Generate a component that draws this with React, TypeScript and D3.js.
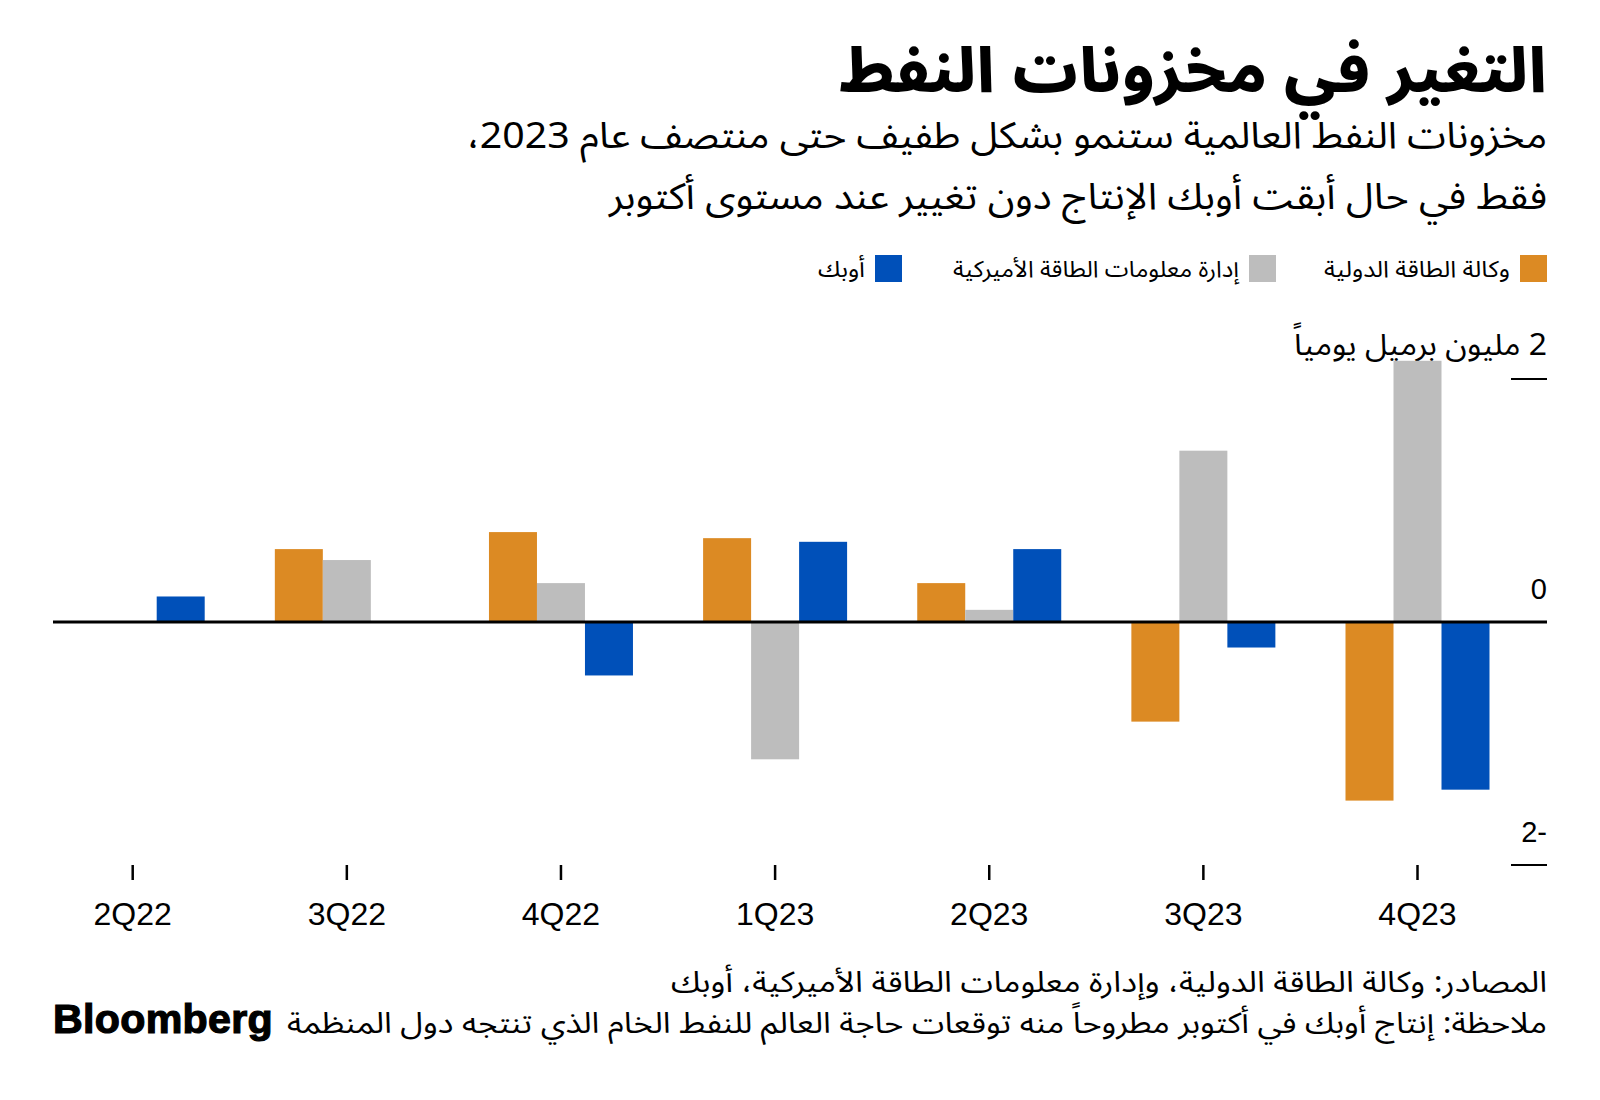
import React from "react";
import * as d3 from "d3";

const categories = ["2Q22", "3Q22", "4Q22", "1Q23", "2Q23", "3Q23", "4Q23"];
const ieaValues = [0, 0.6, 0.74, 0.69, 0.32, -0.82, -1.47];
const eiaValues = [0, 0.51, 0.32, -1.13, 0.1, 1.41, 2.15];
const opecValues = [0.21, 0, -0.44, 0.66, 0.6, -0.21, -1.38];
const seriesKeys = ["iea", "eia", "opec"];
const seriesLabels = ["وكالة الطاقة الدولية", "إدارة معلومات الطاقة الأميركية", "أوبك"];
const seriesColors = ["#dc8a23", "#bdbdbd", "#0050b9"];
const yTicks = [2, 0, -2];
const yTickLabels = ["2 مليون برميل يومياً", "0", "2-"];

const title = "التغير في مخزونات النفط";
const subtitle1 = "مخزونات النفط العالمية ستنمو بشكل طفيف حتى منتصف عام 2023،";
const subtitle2 = "فقط في حال أبقت أوبك الإنتاج دون تغيير عند مستوى أكتوبر";
const source = "المصادر: وكالة الطاقة الدولية، وإدارة معلومات الطاقة الأميركية، أوبك";
const note = "ملاحظة: إنتاج أوبك في أكتوبر مطروحاً منه توقعات حاجة العالم للنفط الخام الذي تنتجه دول المنظمة";

const AR = "'Noto Sans Arabic', 'Noto Kufi Arabic', 'DejaVu Sans', sans-serif";
const LAT = "'Liberation Sans', Arial, sans-serif";

type RTProps = { x: number; y: number; size: number; len?: number; weight?: number; children: React.ReactNode };
function RText({ x, y, size, len, weight, children }: RTProps) {
  return (
    <text
      x={x}
      y={y}
      direction="rtl"
      textAnchor="start"
      fontFamily={AR}
      fontWeight={weight ?? 400}
      fontSize={size}
      fill="#000"
      textLength={len}
      lengthAdjust={len ? "spacingAndGlyphs" : undefined}
    >
      {children}
    </text>
  );
}

export default function App() {
  const W = 1600;
  const H = 1100;
  const right = 1547;
  const x = d3.scalePoint<string>().domain(categories).range([132.7, 1417.5]);
  const xs = d3.scaleBand<string>().domain(seriesKeys).range([-72, 72]).padding(0);
  const y = d3.scaleLinear().domain([-2, 2]).range([865, 379]);
  const series = [ieaValues, eiaValues, opecValues];
  const legendPos = [
    { sq: 1520, tx: 1510, len: 186 },
    { sq: 1249, tx: 1239, len: 286 },
    { sq: 875, tx: 865, len: 47 },
  ];

  return (
    <svg width={W} height={H} style={{ position: "absolute", left: 0, top: 0, background: "#fff" }}>
      <rect x={0} y={0} width={W} height={H} fill="#fff" />
      <RText x={right} y={92} size={62} weight={800} len={708}>{title}</RText>
      <RText x={right} y={148} size={37} len={1080}>{subtitle1}</RText>
      <RText x={right} y={209} size={37} len={938}>{subtitle2}</RText>

      {/* legend */}
      {legendPos.map((p, i) => (
        <g key={i}>
          <rect x={p.sq} y={255} width={27} height={27} fill={seriesColors[i]} />
          <RText x={p.tx} y={277} size={23} len={p.len}>{seriesLabels[i]}</RText>
        </g>
      ))}

      {/* y ticks */}
      {yTicks.map((t, i) => (
        <g key={t}>
          {t !== 0 && <line x1={1511} x2={right} y1={y(t)} y2={y(t)} stroke="#000" strokeWidth={2} />}
          {i === 0 ? (
            <RText x={right} y={y(t) - 24} size={30} len={253}>{yTickLabels[i]}</RText>
          ) : (
            <text x={right} y={y(t) - 23} textAnchor="end" fontFamily={LAT} fontSize={29} fill="#000">
              {yTickLabels[i]}
            </text>
          )}
        </g>
      ))}

      {/* bars */}
      {categories.map((c, ci) => (
        <g key={c}>
          {seriesKeys.map((k, si) => {
            const v = series[si][ci];
            if (!v) return null;
            const x0 = (x(c) as number) + (xs(k) as number);
            const y0 = y(Math.max(0, v));
            const h = Math.abs(y(v) - y(0));
            return <rect key={k} x={x0} y={y0} width={xs.bandwidth()} height={h} fill={seriesColors[si]} />;
          })}
        </g>
      ))}

      {/* zero line */}
      <line x1={53} x2={right} y1={y(0)} y2={y(0)} stroke="#000" strokeWidth={3} />

      {/* x axis */}
      {categories.map((c) => (
        <g key={c}>
          <line x1={x(c)} x2={x(c)} y1={865} y2={880} stroke="#000" strokeWidth={2.5} />
          <text x={x(c)} y={925} textAnchor="middle" fontFamily={LAT} fontSize={32} fill="#000">
            {c}
          </text>
        </g>
      ))}

      {/* footer */}
      <RText x={right} y={992} size={29} len={876}>{source}</RText>
      <RText x={right} y={1033} size={29} len={1260}>{note}</RText>
      <text
        x={53}
        y={1033}
        fontFamily={LAT}
        fontWeight={700}
        fontSize={40}
        letterSpacing={0.3}
        stroke="#000"
        strokeWidth={1.2}
        fill="#000"
        textLength={220}
        lengthAdjust="spacingAndGlyphs"
      >
        Bloomberg
      </text>
    </svg>
  );
}
